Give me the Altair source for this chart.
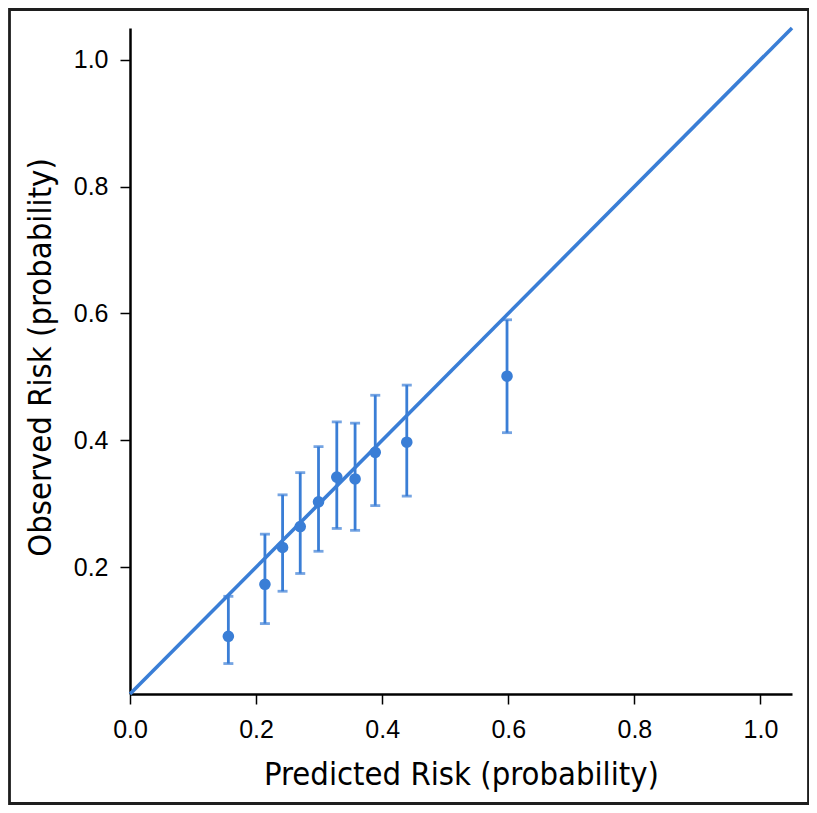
import altair as alt
import pandas as pd

# Calibration data
predicted = [0.156, 0.214, 0.242, 0.270, 0.299, 0.328, 0.357, 0.389, 0.439, 0.598]
observed = [0.091, 0.173, 0.231, 0.264, 0.303, 0.342, 0.339, 0.381, 0.397, 0.501]
ci_low = [0.048, 0.111, 0.162, 0.190, 0.225, 0.261, 0.258, 0.297, 0.312, 0.412]
ci_high = [0.154, 0.252, 0.314, 0.349, 0.390, 0.429, 0.427, 0.471, 0.487, 0.590]

diag = [0.0, 1.05]
x_ticks = [0.0, 0.2, 0.4, 0.6, 0.8, 1.0]
y_ticks = [0.2, 0.4, 0.6, 0.8, 1.0]

BLUE = "#3a7ed6"
TITLE_FONT = "DejaVu Sans Condensed"
LABEL_FONT = "Liberation Sans"

W, H = 662, 666

df = pd.DataFrame({"pred": predicted, "obs": observed, "lo": ci_low, "hi": ci_high})
line_df = pd.DataFrame({"x": diag, "y": diag})

xscale = alt.Scale(domain=[0, 1.05], nice=False)
yscale = alt.Scale(domain=[0, 1.05], nice=False)

common = dict(
    grid=False, domainColor="black", domainWidth=2.5,
    tickColor="black", tickWidth=1.5, tickSize=10,
    labelFont=LABEL_FONT, labelFontSize=25, labelColor="black",
    labelFlush=False, titleColor="black", titleFontSize=32.5,
    titleFont=TITLE_FONT, titleFontWeight="normal",
    titleBaseline="middle", titleAlign="center",
    format=".1f",
)

xaxis = alt.Axis(
    values=x_ticks, title="Predicted Risk (probability)",
    titleX=W / 2, titleY=80, labelPadding=13, **common,
)
yaxis = alt.Axis(
    values=y_ticks, title="Observed Risk (probability)",
    titleAngle=-90, titleX=-90, titleY=H / 2 - 4,
    labelPadding=12, **common,
)

line = alt.Chart(line_df).mark_line(color=BLUE, strokeWidth=3.6, clip=False).encode(
    x=alt.X("x:Q", scale=xscale, axis=xaxis),
    y=alt.Y("y:Q", scale=yscale, axis=yaxis),
)

bars = alt.Chart(df).mark_rule(color=BLUE, strokeWidth=2.8).encode(
    x=alt.X("pred:Q", scale=xscale),
    y=alt.Y("lo:Q", scale=yscale),
    y2="hi:Q",
)

caps_hi = alt.Chart(df).mark_tick(color=BLUE, orient="horizontal", size=10, thickness=2.8).encode(
    x=alt.X("pred:Q", scale=xscale),
    y=alt.Y("hi:Q", scale=yscale),
)
caps_lo = alt.Chart(df).mark_tick(color=BLUE, orient="horizontal", size=10, thickness=2.8).encode(
    x=alt.X("pred:Q", scale=xscale),
    y=alt.Y("lo:Q", scale=yscale),
)

points = alt.Chart(df).mark_circle(color=BLUE, size=135, opacity=1).encode(
    x=alt.X("pred:Q", scale=xscale),
    y=alt.Y("obs:Q", scale=yscale),
)

frame = alt.Chart(pd.DataFrame({"k": [0]})).mark_rect(
    fill=None, stroke="#1e1e1e", strokeWidth=2.8, clip=False
).encode(
    x=alt.value(-120.5), x2=alt.value(W + 16.5),
    y=alt.value(-18.5), y2=alt.value(H + 109.5),
)

chart = (
    alt.layer(line, bars, caps_hi, caps_lo, points, frame)
    .properties(
        width=W, height=H,
        autosize=alt.AutoSizeParams(type="none"),
        padding={"left": 122, "top": 20, "right": 17, "bottom": 111},
        background="white",
    )
    .configure_view(stroke=None)
)

chart.save("out.html", embed_options={"renderer": "svg", "actions": False})
